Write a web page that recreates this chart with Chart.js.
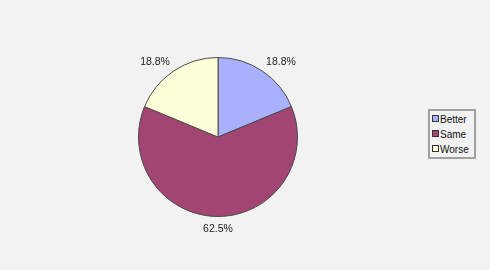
<!DOCTYPE html>
<html>
<head>
<meta charset="utf-8">
<script src="https://cdn.jsdelivr.net/npm/chart.js@4/dist/chart.umd.min.js"></script>
<style>
  html, body { margin: 0; padding: 0; background: #f2f2f2; }
  #wrap { position: relative; width: 490px; height: 270px; }
  #legend {
    position: absolute; left: 428px; top: 109px; width: 42px;
    border: 2px solid #a0a0a0; background: #f2f2f2;
    font-family: "Liberation Sans", Arial, sans-serif; font-size: 10px; color: #111;
    padding: 1px 0 0 2px;
  }
  #legend div { height: 15px; line-height: 15px; white-space: nowrap; }
  #legend span {
    display: inline-block; width: 5px; height: 5px; border: 1px solid #333;
    margin-right: 1px; vertical-align: 1px;
  }
</style>
</head>
<body>
<div id="wrap">
  <canvas id="chart" width="490" height="270"></canvas>
  <div id="legend"></div>
</div>
<script>
// dados do gráfico
const categories = ['Better', 'Same', 'Worse'];
const values = [18.75, 62.5, 18.75];
const valueLabels = ['18.8%', '62.5%', '18.8%'];
const colors = ['#a9b1ff', '#a34573', '#ffffd9'];

// rótulos fora da pizza, estilo Excel
const outsideLabels = {
    id: 'outsideLabels',
    afterDatasetsDraw(chart) {
        const ctx = chart.ctx;
        const meta = chart.getDatasetMeta(0);
        ctx.save();
        ctx.font = '10.5px "Liberation Sans", Arial, sans-serif';
        ctx.fillStyle = '#222';
        meta.data.forEach(function (arc, i) {
            const mid = (arc.startAngle + arc.endAngle) / 2;
            const r = arc.outerRadius + 7;
            const x = arc.x + Math.cos(mid) * r;
            const y = arc.y + Math.sin(mid) * r;
            const c = Math.cos(mid), s = Math.sin(mid);
            ctx.textAlign = Math.abs(c) < 0.2 ? 'center' : (c > 0 ? 'left' : 'right');
            ctx.textBaseline = Math.abs(s) < 0.2 ? 'middle' : (s > 0 ? 'top' : 'alphabetic');
            ctx.fillText(valueLabels[i], x, y);
        });
        ctx.restore();
    }
};

new Chart(document.getElementById('chart'), {
    type: 'pie',
    data: {
        labels: categories,
        datasets: [{
            data: values,
            backgroundColor: colors,
            borderColor: '#4a4a4a',
            borderWidth: 1
        }]
    },
    options: {
        responsive: false,
        animation: false,
        layout: { padding: { left: 138, right: 192, top: 57, bottom: 53 } },
        plugins: { legend: { display: false }, tooltip: { enabled: false } }
    },
    plugins: [outsideLabels]
});

// legenda em HTML
const legend = document.getElementById('legend');
categories.forEach(function (name, i) {
    const row = document.createElement('div');
    row.innerHTML = '<span style="background:' + colors[i] + '"></span>' + name;
    legend.appendChild(row);
});
</script>
</body>
</html>
